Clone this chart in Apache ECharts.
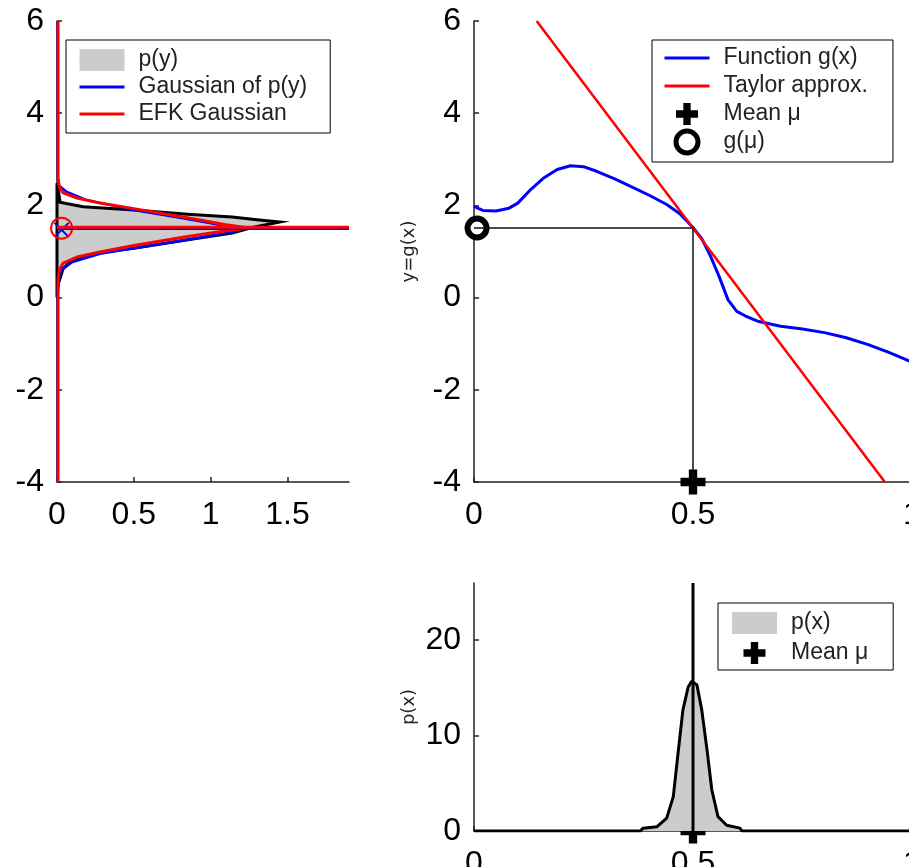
<!DOCTYPE html>
<html>
<head>
<meta charset="utf-8">
<script src="https://cdn.jsdelivr.net/npm/echarts@6/dist/echarts.min.js"></script>
<style>
html, body { margin: 0; padding: 0; background: #fff; }
#main { width: 909px; height: 867px; }
</style>
</head>
<body>
<div id="main"></div>
<script>
// ---- top left: p(y) drawn sideways (density on x, y on y) ----
var pyDensity = [0, 0.01, 0.04, 0.1, 0.3, 0.5, 0.82, 1.14, 1.27, 1.45, 1.3, 1.14, 0.85, 0.5, 0.17, 0.06, 0.02, 0.01, 0];
var pyLevel   = [0, 0.31, 0.63, 0.82, 0.99, 1.07, 1.24, 1.4, 1.52, 1.64, 1.69, 1.75, 1.81, 1.9, 1.97, 2.04, 2.07, 2.3, 2.48];

var gaussDensity = [0.005, 0.005, 0.01, 0.03, 0.1, 0.28, 0.5, 0.82, 1.14, 1.2, 1.12, 0.82, 0.5, 0.19, 0.06, 0.01, 0.005, 0.005];
var gaussLevel   = [-4, 0.2, 0.4, 0.6, 0.77, 0.95, 1.07, 1.24, 1.42, 1.49, 1.54, 1.72, 1.9, 2.12, 2.3, 2.44, 2.6, 6];

var efkDensity = [0.007, 0.007, 0.015, 0.04, 0.13, 0.28, 0.5, 0.82, 1.1, 1.25, 1.1, 0.82, 0.5, 0.28, 0.13, 0.04, 0.015, 0.007, 0.007];
var efkLevel   = [-4, 0.4, 0.6, 0.75, 0.88, 0.99, 1.13, 1.31, 1.45, 1.51, 1.58, 1.75, 1.93, 2.05, 2.16, 2.27, 2.4, 2.6, 6];

var gaussMean = 1.49;
var efkMean = 1.525;
var densityMax = 1.9;
var markerDensity = 0.03;

// ---- top right: g(x) and its linearisation ----
var gxX = [0, 0.02, 0.05, 0.08, 0.1, 0.13, 0.16, 0.19, 0.22, 0.25, 0.28, 0.32, 0.36, 0.4, 0.44, 0.47, 0.5, 0.52, 0.54, 0.56, 0.58, 0.6, 0.62, 0.65, 0.7, 0.75, 0.8, 0.85, 0.9, 0.95, 0.995];
var gxY = [1.98, 1.89, 1.88, 1.94, 2.05, 2.35, 2.6, 2.78, 2.86, 2.84, 2.74, 2.58, 2.4, 2.22, 2.02, 1.82, 1.52, 1.28, 0.9, 0.45, -0.05, -0.3, -0.4, -0.52, -0.62, -0.68, -0.76, -0.87, -1.02, -1.2, -1.38];
var taylorX = [0.143, 0.938];
var taylorY = [6, -4];
var meanMu = 0.5;
var gMu = 1.51;
var gMuX = 0.007;

// ---- bottom: p(x) ----
var pxX       = [0, 0.38, 0.386, 0.418, 0.44, 0.455, 0.466, 0.477, 0.489, 0.497, 0.509, 0.52, 0.532, 0.543, 0.557, 0.577, 0.607, 0.612, 1];
var pxDensity = [0, 0, 0.3, 0.45, 1.35, 3.6, 8.2, 12.7, 15.1, 15.7, 15.3, 12.7, 8.5, 4.3, 1.5, 0.6, 0.3, 0, 0];

// tick labels
var densityTicks = [0, 0.5, 1, 1.5];
var pxTicks = [0, 10, 20];

function pairs(a, b) {
    return a.map(function (v, i) { return [v, b[i]]; });
}

var plusPath = 'path://M3,0H6V3H9V6H6V9H3V6H0V3H3Z';
var axisColor = '#222';
var tickFont = { color: '#000', fontSize: 32, fontFamily: 'Liberation Sans' };
var nameFont = { color: '#222', fontSize: 18, fontFamily: 'DejaVu Sans' };
var noDot = { color: 'rgba(0,0,0,0)', borderWidth: 0, opacity: 0 };

function xAx(grid, min, max, extra) {
    var ax = {
        gridIndex: grid, type: 'value', min: min, max: max,
        axisLine: { onZero: false, lineStyle: { color: axisColor, width: 1.5 } },
        axisTick: { inside: true, length: 5, lineStyle: { color: axisColor, width: 1.5 } },
        axisLabel: Object.assign({ margin: 17 }, tickFont),
        splitLine: { show: false }
    };
    return Object.assign(ax, extra);
}
function yAx(grid, min, max, extra) {
    var ax = {
        gridIndex: grid, type: 'value', min: min, max: max,
        axisLine: { show: true, onZero: false, lineStyle: { color: axisColor, width: 1.5 } },
        axisTick: { show: true, inside: true, length: 5, lineStyle: { color: axisColor, width: 1.5 } },
        axisLabel: Object.assign({ margin: 13 }, tickFont),
        splitLine: { show: false }
    };
    return Object.assign(ax, extra);
}

var legendCommon = {
    orient: 'vertical', align: 'left', itemWidth: 45, itemHeight: 22,
    borderColor: '#000', borderWidth: 1, backgroundColor: '#fff', selectedMode: false,
    lineStyle: { width: 3 }
};
function legendText(lh) {
    return { fontFamily: 'Liberation Sans', fontSize: 23, color: '#222', lineHeight: lh, padding: [0, 0, 0, 9] };
}

var chart = echarts.init(document.getElementById('main'));

var option = {
    animation: false,
    backgroundColor: '#fff',
    grid: [
        { left: 57, top: 21, width: 292, height: 461, outerBoundsMode: 'none' },
        { left: 474, top: 21, width: 438, height: 461, outerBoundsMode: 'none' },
        { left: 474, top: 583, width: 438, height: 248, outerBoundsMode: 'none' }
    ],
    xAxis: [
        xAx(0, 0, densityMax, {
            axisLabel: Object.assign({ margin: 17, customValues: densityTicks }, tickFont),
            axisTick: { inside: true, length: 5, customValues: densityTicks, lineStyle: { color: axisColor, width: 1.5 } }
        }),
        xAx(1, 0, 1, { interval: 0.5 }),
        xAx(2, 0, 1, { interval: 0.5 })
    ],
    yAxis: [
        yAx(0, -4, 6, { interval: 2 }),
        yAx(1, -4, 6, { interval: 2, name: 'y=g(x)', nameLocation: 'middle', nameRotate: 90, nameGap: 56, nameTextStyle: nameFont }),
        yAx(2, 0, 26, {
            axisLabel: Object.assign({ margin: 13, customValues: pxTicks }, tickFont),
            axisTick: { show: true, inside: true, length: 5, customValues: pxTicks, lineStyle: { color: axisColor, width: 1.5 } },
            name: 'p(x)', nameLocation: 'middle', nameRotate: 90, nameGap: 56, nameTextStyle: nameFont
        })
    ],
    legend: [
        Object.assign({}, legendCommon, {
            left: 66, top: 40, padding: [6.5, 23, 5.5, 12], itemGap: 0, textStyle: legendText(27),
            data: [
                { name: 'p(y)', icon: 'rect', itemStyle: { color: '#cccccc', borderWidth: 0 } },
                { name: 'Gaussian of p(y)', itemStyle: noDot },
                { name: 'EFK Gaussian', itemStyle: noDot }
            ]
        }),
        Object.assign({}, legendCommon, {
            left: 652, top: 40, padding: [4, 25, 6, 11], itemGap: 0, textStyle: legendText(28),
            data: [
                { name: 'Function g(x)', itemStyle: noDot },
                { name: 'Taylor approx.', itemStyle: noDot },
                'Mean μ',
                { name: 'g(μ)', itemStyle: { borderWidth: 5 } }
            ]
        }),
        Object.assign({}, legendCommon, {
            left: 718, top: 603, padding: [6, 25, 3, 14], itemGap: 2, textStyle: legendText(28),
            data: [{ name: 'p(x)', icon: 'rect', itemStyle: { color: '#cccccc', borderWidth: 0 } }, 'Mean μ']
        })
    ],
    series: [
        {
            name: 'p(y)', type: 'custom', xAxisIndex: 0, yAxisIndex: 0,
            itemStyle: { color: '#cccccc' },
            data: [[0, 0]],
            renderItem: function (params, api) {
                var pts = pyDensity.map(function (d, i) { return api.coord([d, pyLevel[i]]); });
                return { type: 'polygon', shape: { points: pts }, style: { fill: '#cccccc', stroke: '#000', lineWidth: 3 } };
            }
        },
        {
            name: 'Gaussian of p(y)', type: 'line', xAxisIndex: 0, yAxisIndex: 0, symbol: 'none',
            lineStyle: { color: '#0000ff', width: 2.5 }, itemStyle: { color: '#0000ff' },
            data: pairs(gaussDensity, gaussLevel)
        },
        {
            name: 'EFK Gaussian', type: 'line', xAxisIndex: 0, yAxisIndex: 0, symbol: 'none',
            lineStyle: { color: '#ff0000', width: 3 }, itemStyle: { color: '#ff0000' },
            data: pairs(efkDensity, efkLevel)
        },
        {
            name: 'Gaussian mean', type: 'line', xAxisIndex: 0, yAxisIndex: 0, symbol: 'none',
            lineStyle: { color: '#0000ff', width: 2 },
            data: [[0, gaussMean], [densityMax, gaussMean]]
        },
        {
            name: 'EFK mean', type: 'line', xAxisIndex: 0, yAxisIndex: 0, symbol: 'none',
            lineStyle: { color: '#ff0000', width: 3 },
            data: [[0, efkMean], [densityMax, efkMean]]
        },
        {
            name: 'Gaussian mean marker', type: 'scatter', xAxisIndex: 0, yAxisIndex: 0, clip: false,
            symbol: 'path://M0,0L10,10M10,0L0,10', symbolSize: 14,
            itemStyle: { color: 'rgba(0,0,0,0)', borderColor: '#0000ff', borderWidth: 2, opacity: 1 },
            data: [[markerDensity, gaussMean - 0.02]]
        },
        {
            name: 'EFK mean marker', type: 'scatter', xAxisIndex: 0, yAxisIndex: 0, clip: false,
            symbol: 'circle', symbolSize: 21,
            itemStyle: { color: 'rgba(0,0,0,0)', borderColor: '#ff0000', borderWidth: 2, opacity: 1 },
            data: [[markerDensity, efkMean - 0.02]]
        },
        {
            name: 'Function g(x)', type: 'line', xAxisIndex: 1, yAxisIndex: 1, symbol: 'none',
            lineStyle: { color: '#0000ff', width: 3 }, itemStyle: { color: '#0000ff' },
            data: pairs(gxX, gxY)
        },
        {
            name: 'Taylor approx.', type: 'line', xAxisIndex: 1, yAxisIndex: 1, symbol: 'none',
            lineStyle: { color: '#ff0000', width: 2.5 }, itemStyle: { color: '#ff0000' },
            data: pairs(taylorX, taylorY)
        },
        {
            name: 'guide', type: 'line', xAxisIndex: 1, yAxisIndex: 1, symbol: 'none',
            lineStyle: { color: '#111', width: 1.5 },
            data: [[0, gMu], [meanMu, gMu], [meanMu, -4]]
        },
        {
            name: 'Mean μ', type: 'scatter', xAxisIndex: 1, yAxisIndex: 1, clip: false,
            symbol: plusPath, symbolSize: 25, itemStyle: { color: '#000', opacity: 1 },
            data: [[meanMu, -4]]
        },
        {
            name: 'g(μ)', type: 'scatter', xAxisIndex: 1, yAxisIndex: 1, clip: false,
            symbol: 'circle', symbolSize: 19,
            itemStyle: { color: '#fff', borderColor: '#000', borderWidth: 6, opacity: 1 },
            data: [[gMuX, gMu]]
        },
        {
            name: 'p(x)', type: 'line', xAxisIndex: 2, yAxisIndex: 2, symbol: 'none',
            lineStyle: { color: '#000', width: 3 }, itemStyle: { color: '#cccccc' },
            areaStyle: { color: '#cccccc', opacity: 1 },
            data: pairs(pxX, pxDensity)
        },
        {
            name: 'mean line', type: 'line', xAxisIndex: 2, yAxisIndex: 2, symbol: 'none',
            lineStyle: { color: '#000', width: 3 },
            data: [[meanMu, 0], [meanMu, 26]]
        },
        {
            name: 'Mean μ', type: 'scatter', xAxisIndex: 2, yAxisIndex: 2, clip: false,
            symbol: plusPath, symbolSize: 25, itemStyle: { color: '#000', opacity: 1 },
            data: [[meanMu, 0]]
        }
    ]
};

chart.setOption(option);
</script>
</body>
</html>
